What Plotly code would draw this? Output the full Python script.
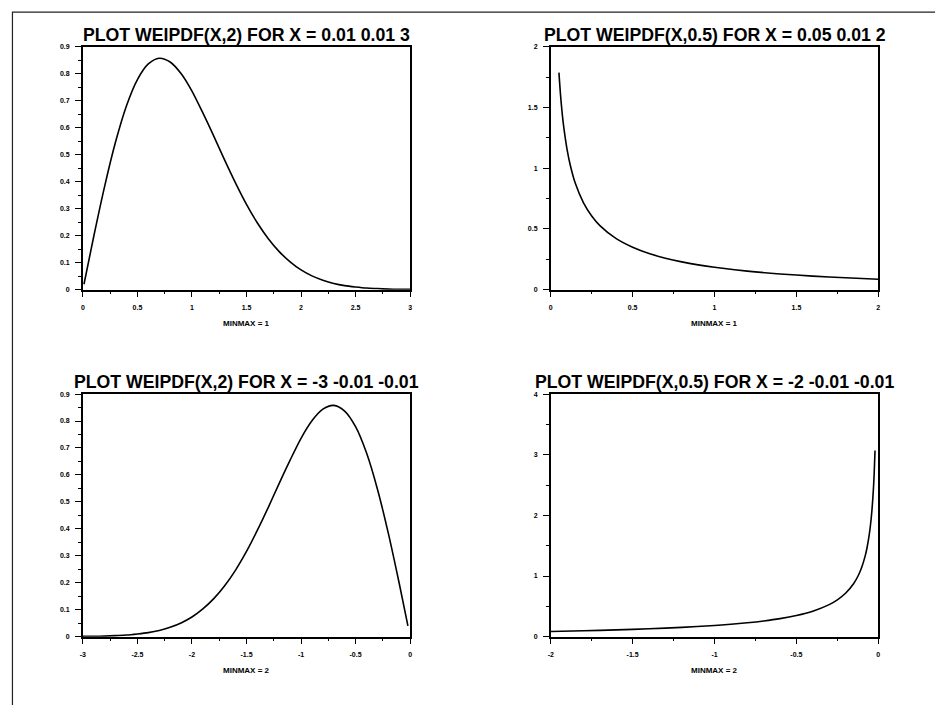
import plotly.graph_objects as go

# ---------------- data ----------------
# Panel 1: WEIPDF(X,2), X = 0.01 .. 3
x1 = [0.01, 0.1, 0.2, 0.3, 0.4, 0.5, 0.6, 0.7, 0.8, 0.9, 1.0, 1.1, 1.2, 1.3, 1.4, 1.5,
      1.6, 1.7, 1.8, 1.9, 2.0, 2.1, 2.2, 2.3, 2.4, 2.5, 2.6, 2.7, 2.8, 2.9, 3.0]
y1 = [0.02, 0.198, 0.384, 0.548, 0.682, 0.779, 0.837, 0.858, 0.844, 0.801, 0.736, 0.655,
      0.569, 0.480, 0.395, 0.316, 0.247, 0.189, 0.141, 0.103, 0.073, 0.051, 0.035, 0.023,
      0.015, 0.010, 0.006, 0.004, 0.002, 0.001, 0.001]

# Panel 2: WEIPDF(X,0.5), X = 0.05 .. 2
x2 = [0.05, 0.06, 0.07, 0.08, 0.10, 0.12, 0.15, 0.2, 0.25, 0.3, 0.4, 0.5, 0.6, 0.7, 0.8,
      0.9, 1.0, 1.2, 1.4, 1.6, 1.8, 2.0]
y2 = [1.788, 1.598, 1.450, 1.332, 1.152, 1.021, 0.876, 0.715, 0.607, 0.528, 0.420, 0.349,
      0.2975, 0.2588, 0.2285, 0.2041, 0.184, 0.1526, 0.1294, 0.1116, 0.0974, 0.086]

# Panel 3: WEIPDF(X,2), X = -3 .. -0.02
x3 = [-3.0, -2.9, -2.8, -2.7, -2.6, -2.5, -2.4, -2.3, -2.2, -2.1, -2.0, -1.9, -1.8, -1.7,
      -1.6, -1.5, -1.4, -1.3, -1.2, -1.1, -1.0, -0.9, -0.8, -0.7, -0.6, -0.5, -0.4, -0.3,
      -0.2, -0.1, -0.02]
y3 = [0.001, 0.001, 0.002, 0.004, 0.006, 0.010, 0.015, 0.023, 0.035, 0.051, 0.073, 0.103,
      0.141, 0.189, 0.247, 0.316, 0.395, 0.480, 0.569, 0.655, 0.736, 0.801, 0.844, 0.858,
      0.837, 0.779, 0.682, 0.548, 0.384, 0.198, 0.040]

# Panel 4: WEIPDF(X,0.5), X = -2 .. -0.02
x4 = [-2.0, -1.8, -1.6, -1.4, -1.2, -1.0, -0.9, -0.8, -0.7, -0.6, -0.5, -0.4, -0.3, -0.25,
      -0.2, -0.15, -0.12, -0.10, -0.08, -0.07, -0.06, -0.05, -0.04, -0.03, -0.025, -0.02]
y4 = [0.086, 0.0974, 0.1116, 0.1294, 0.1526, 0.184, 0.2041, 0.2285, 0.2588, 0.2975, 0.349,
      0.420, 0.528, 0.607, 0.715, 0.876, 1.021, 1.152, 1.332, 1.450, 1.598, 1.788, 2.047,
      2.428, 2.700, 3.07]

titles = ["PLOT WEIPDF(X,2) FOR X = 0.01 0.01 3",
          "PLOT WEIPDF(X,0.5) FOR X = 0.05 0.01 2",
          "PLOT WEIPDF(X,2) FOR X = -3 -0.01 -0.01",
          "PLOT WEIPDF(X,0.5) FOR X = -2 -0.01 -0.01"]
xlabels = ["MINMAX = 1", "MINMAX = 1", "MINMAX = 2", "MINMAX = 2"]

xt1 = [0, 0.5, 1, 1.5, 2, 2.5, 3]
xt1_text = ["0", "0.5", "1", "1.5", "2", "2.5", "3"]
xt2 = [0, 0.5, 1, 1.5, 2]
xt2_text = ["0", "0.5", "1", "1.5", "2"]
xt3 = [-3, -2.5, -2, -1.5, -1, -0.5, 0]
xt3_text = ["-3", "-2.5", "-2", "-1.5", "-1", "-0.5", "0"]
xt4 = [-2, -1.5, -1, -0.5, 0]
xt4_text = ["-2", "-1.5", "-1", "-0.5", "0"]

yt1 = [0, 0.1, 0.2, 0.3, 0.4, 0.5, 0.6, 0.7, 0.8, 0.9]
yt1_text = ["0", "0.1", "0.2", "0.3", "0.4", "0.5", "0.6", "0.7", "0.8", "0.9"]
yt2 = [0, 0.5, 1, 1.5, 2]
yt2_text = ["0", "0.5", "1", "1.5", "2"]
yt4 = [0, 1, 2, 3, 4]
yt4_text = ["0", "1", "2", "3", "4"]

# ---------------- layout geometry ----------------
W, H = 935, 705
FONT = "Liberation Sans, Arial, Helvetica, sans-serif"

def px_x(p):
    return p / W

def px_y(p):
    return 1 - p / H

panels = [
    dict(x=x1, y=y1, dom_x=(80.3, 409.3), dom_y=(43.3, 288.5), xr=[0, 3], yr=[0, 0.9],
         xt=xt1, xtt=xt1_text, xm=0.25, yt=yt1, ytt=yt1_text, ym=0.05),
    dict(x=x2, y=y2, dom_x=(550.7, 880.0), dom_y=(43.3, 288.5), xr=[0, 2], yr=[0, 2],
         xt=xt2, xtt=xt2_text, xm=0.25, yt=yt2, ytt=yt2_text, ym=0.25),
    dict(x=x3, y=y3, dom_x=(80.3, 409.3), dom_y=(394.0, 639.0), xr=[-3, 0], yr=[0, 0.9],
         xt=xt3, xtt=xt3_text, xm=0.25, yt=yt1, ytt=yt1_text, ym=0.05),
    dict(x=x4, y=y4, dom_x=(550.7, 880.0), dom_y=(394.0, 639.0), xr=[-2, 0], yr=[0, 4],
         xt=xt4, xtt=xt4_text, xm=0.25, yt=yt4, ytt=yt4_text, ym=0.5),
]

fig = go.Figure()
annotations = []
for i, p in enumerate(panels):
    n = "" if i == 0 else str(i + 1)
    fig.add_trace(go.Scatter(x=p["x"], y=p["y"], mode="lines",
                             line=dict(color="black", width=1.6, shape="spline", smoothing=0.8),
                             xaxis="x" + n, yaxis="y" + n, showlegend=False,
                             hoverinfo="skip"))
    axcommon = dict(showline=True, linecolor="black", linewidth=1.6, mirror=True,
                    showgrid=False, zeroline=False, ticks="outside", tickcolor="black",
                    tickwidth=1.4, ticklen=6,
                    tickfont=dict(family=FONT, size=7, color="black", weight="bold"))
    fig.update_layout(**{
        "xaxis" + n: dict(domain=[px_x(p["dom_x"][0]), px_x(p["dom_x"][1])],
                          range=p["xr"], anchor="y" + n, tickmode="array",
                          tickvals=p["xt"], ticktext=p["xtt"], ticklabelstandoff=4,
                          minor=dict(dtick=p["xm"], ticks="outside", ticklen=3,
                                     tickwidth=1.4, tickcolor="black", tick0=0),
                          **axcommon),
        "yaxis" + n: dict(domain=[px_y(p["dom_y"][1]), px_y(p["dom_y"][0])],
                          range=p["yr"], anchor="x" + n, tickmode="array",
                          tickvals=p["yt"], ticktext=p["ytt"], ticklabelstandoff=4,
                          minor=dict(dtick=p["ym"], ticks="outside", ticklen=3,
                                     tickwidth=1.4, tickcolor="black", tick0=0),
                          **axcommon),
    })
    cx = (p["dom_x"][0] + p["dom_x"][1]) / 2
    annotations.append(dict(text="<b>" + titles[i] + "</b>", xref="paper", yref="paper",
                            x=px_x(cx), y=px_y(p["dom_y"][0] - 12.3), xanchor="center",
                            yanchor="middle", showarrow=False,
                            font=dict(family=FONT, size=17.7, color="black")))
    annotations.append(dict(text="<b>" + xlabels[i] + "</b>", xref="paper", yref="paper",
                            x=px_x(cx), y=px_y(p["dom_y"][1] + 34.2), xanchor="center",
                            yanchor="middle", showarrow=False,
                            font=dict(family=FONT, size=8, color="black")))

fig.update_layout(
    width=W, height=H,
    margin=dict(l=0, r=0, t=0, b=0),
    paper_bgcolor="white", plot_bgcolor="white",
    annotations=annotations,
    shapes=[dict(type="rect", xref="paper", yref="paper",
                 x0=px_x(9.5), x1=1.05, y0=-0.05, y1=px_y(8.3),
                 line=dict(color="#222222", width=1.2))],
)

fig.write_html("out.html",
               config={"displayModeBar": False},
               post_script="document.body.style.margin='0';"
                           "document.body.style.overflow='hidden';")
